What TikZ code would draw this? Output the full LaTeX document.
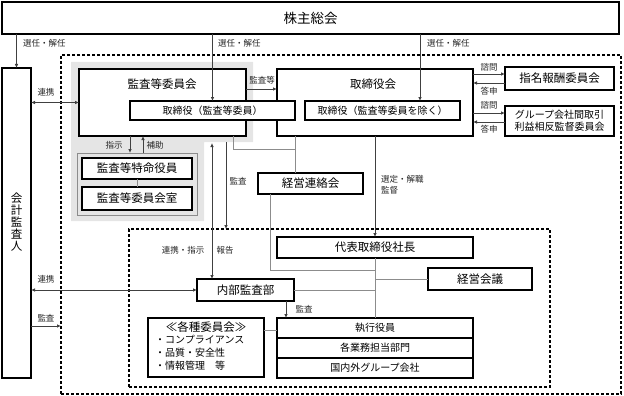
\documentclass[tikz,border=0pt]{standalone}
\usepackage{fontspec}
\setmainfont{Noto Sans CJK JP}
\usetikzlibrary{arrows.meta,calc}
\newcommand\fsL{\fontsize{13.5}{15}\selectfont}
\newcommand\fsB{\fontsize{11.5}{13}\selectfont}
\newcommand\fsM{\fontsize{10}{12}\selectfont}
\newcommand\fsV{\fontsize{11.5}{12}\selectfont}
\newcommand\fsS{\fontsize{8.5}{10}\selectfont}
\begin{document}
\begin{tikzpicture}[x=1pt,y=-1pt,
  box/.style={draw=black, line width=1.1pt, fill=white, inner sep=0pt, outer sep=0pt, anchor=north west, font=\fsB},
  bbox/.style={box, line width=1.8pt},
  arr/.style={draw=black!75, line width=0.8pt, -{Latex[length=4pt,width=3.6pt]}},
  darr/.style={draw=black!75, line width=0.8pt, {Latex[length=4pt,width=3.6pt]}-{Latex[length=4pt,width=3.6pt]}},
  gline/.style={draw=black!45, line width=0.9pt},
  lbl/.style={font=\fsS, inner sep=0pt, text=black!85},
  dbox/.style={draw=black, line width=1.1pt, dash pattern=on 3pt off 2pt, inner sep=0pt, outer sep=0pt, anchor=north west},
]
\useasboundingbox (0,0) rectangle (624,396);
% gray area
\fill[gray!20] (71,62) -- (253,62) -- (253,142) -- (204,142) -- (204,221) -- (71,221) -- cycle;
% dashed areas
\node[dbox, minimum width=560, minimum height=339] (outer) at (61,55) {};
\node[dbox, minimum width=421, minimum height=158] (inner) at (129,229) {};
% boxes
\node[bbox, minimum width=617, minimum height=32, font=\fsL] (kabu) at (2,2) {株主総会};
\node[bbox, minimum width=29, minimum height=310] (kaikei) at (2,68) {};
\node[font=\fsV, align=center, inner sep=0pt] (kaikeit) at (16.5,222) {会\\計\\監\\査\\人};
\node[bbox, minimum width=167, minimum height=67] (kan) at (79,69) {};
\node[font=\fsB, inner sep=0pt] (kant) at (162,84) {監査等委員会};
\node[bbox, minimum width=196, minimum height=67] (tkk) at (277,69) {};
\node[font=\fsB, inner sep=0pt] (tkkt) at (373,84) {取締役会};
\node[box, minimum width=165, minimum height=19, font=\fsM] (tk1) at (130,101) {取締役（監査等委員）};
\node[box, minimum width=155, minimum height=19, font=\fsM] (tk2) at (305,101) {取締役（監査等委員を除く）};
\node[box, minimum width=109, minimum height=23] (shimei) at (505,67) {指名報酬委員会};
\node[box, minimum width=109, minimum height=30, font=\fsM, align=center] (group) at (505,106) {グループ会社間取引\\利益相反監督委員会};
\node[draw=black!45, line width=0.9pt, fill=gray!20, minimum width=120, minimum height=62, anchor=north west, inner sep=0pt, outer sep=0pt] (grp) at (77,153) {};
\node[box, minimum width=110, minimum height=21] (tok) at (82,158) {監査等特命役員};
\node[box, minimum width=110, minimum height=23] (shitsu) at (82,187) {監査等委員会室};
\node[box, minimum width=105, minimum height=21] (keiren) at (258,173) {経営連絡会};
\node[box, minimum width=196, minimum height=21] (daihyo) at (277,237) {代表取締役社長};
\node[box, minimum width=104, minimum height=22] (keikai) at (428,268) {経営会議};
\node[box, minimum width=97, minimum height=22] (naibu) at (197,279) {内部監査部};
\node[box, minimum width=196, minimum height=60] (shikko) at (277,318) {};
\node[box, minimum width=116, minimum height=59] (iinkai) at (148,318) {};
% coordinates
\coordinate (c420) at (420,0);
\coordinate (y89) at (0,89);
\coordinate (y74) at (0,74);
\coordinate (y83) at (0,83);
\coordinate (y113) at (0,113);
\coordinate (y122) at (0,122);
\coordinate (x130) at (130,0);
\coordinate (x143) at (143,0);
\coordinate (gb212) at (212,143);
\coordinate (gb226) at (226,142);
\coordinate (x233) at (233,0);
\coordinate (c233) at (233,149);
\coordinate (c295) at (295,149);
\coordinate (x295) at (295,0);
\coordinate (x270) at (270,0);
\coordinate (c270) at (270,270);
\coordinate (y326) at (0,326);
\coordinate (x286) at (286,0);
\coordinate (y330) at (0,330);
\coordinate (y338) at (0,338);
\coordinate (y358) at (0,358);
% rows of shikko
\draw[line width=1.1pt] (y338 -| shikko.west) -- (y338 -| shikko.east);
\draw[line width=1.1pt] (y358 -| shikko.west) -- (y358 -| shikko.east);
\node[font=\fsM] (r1) at (375,328) {執行役員};
\node[font=\fsM] (r2) at (375,348) {各業務担当部門};
\node[font=\fsM] (r3) at (375,368) {国内外グループ会社};
% iinkai text
\node[font=\fsB, inner sep=0pt] (it0) at (206,327) {≪各種委員会≫};
\node[font=\fsM, inner sep=0pt, anchor=west] (it1) at (155,340) {・コンプライアンス};
\node[font=\fsM, inner sep=0pt, anchor=west] (it2) at (155,353) {・品質・安全性};
\node[font=\fsM, inner sep=0pt, anchor=west] (it3) at (155,366) {・情報管理　等};
% connectors
\draw[arr] (kaikei.north |- kabu.south) -- (kaikei.north);
\draw[arr] (tk1.north |- kabu.south) -- (tk1.north);
\draw[arr] (c420 |- kabu.south) -- (c420 |- tk2.north);
\draw[arr] (y89 -| kan.east) -- (y89 -| tkk.west);
\draw[darr] (kaikei.east |- kan.west) -- (kan.west);
\draw[arr] (y74 -| tkk.east) -- (y74 -| shimei.west);
\draw[arr] (y83 -| shimei.west) -- (y83 -| tkk.east);
\draw[arr] (y113 -| tkk.east) -- (y113 -| group.west);
\draw[arr] (y122 -| group.west) -- (y122 -| tkk.east);
\draw[arr] (x130 |- kan.south) -- (x130 |- grp.north);
\draw[arr] (x143 |- grp.north) -- (x143 |- kan.south);
\draw[gline] (tok.south) -- (shitsu.north);
\draw[darr] (gb212) -- (gb212 |- naibu.north);
\draw[arr] (gb226) -- (gb226 |- inner.north);
\draw[gline] (x233 |- kan.south) -- (c233) -- (c295);
\draw[gline] (x295 |- tkk.south) -- (x295 |- keiren.north);
\draw[gline] (x270 |- keiren.south) -- (c270) -- (c270 -| daihyo.south);
\draw[arr] (tkk.south) -- (daihyo.north);
\draw[gline] (daihyo.south) -- (shikko.north);
\draw[gline] (keikai.west) -- (keikai.west -| daihyo.south);
\draw[gline] (naibu.east) -- (naibu.east -| daihyo.south);
\draw[darr] (kaikei.east |- naibu.west) -- (naibu.west);
\draw[arr] (y326 -| kaikei.east) -- (y326 -| outer.west);
\draw[arr] (x286 |- naibu.south) -- (x286 |- shikko.north);
\draw[gline] (y330 -| iinkai.east) -- (y330 -| shikko.west);
% labels
\node[lbl, anchor=west] (l1) at (23,43) {選任・解任};
\node[lbl, anchor=west] (l2) at (218,43) {選任・解任};
\node[lbl, anchor=west] (l3) at (427,43) {選任・解任};
\node[lbl] (l4) at (46,92) {連携};
\node[lbl] (l5) at (262,80) {監査等};
\node[lbl] (l6) at (489,67) {諮問};
\node[lbl] (l7) at (489,91) {答申};
\node[lbl] (l8) at (489,105) {諮問};
\node[lbl] (l9) at (489,129) {答申};
\node[lbl] (l10) at (114,145) {指示};
\node[lbl] (l11) at (155,145) {補助};
\node[lbl] (l12) at (238,181) {監査};
\node[lbl, anchor=west] (l13) at (381,179) {選定・解職};
\node[lbl, anchor=west] (l14) at (381,190) {監督};
\node[lbl] (l15) at (183,250) {連携・指示};
\node[lbl] (l16) at (225,250) {報告};
\node[lbl] (l17) at (46,279) {連携};
\node[lbl] (l18) at (46,318) {監査};
\node[lbl] (l19) at (304,309) {監査};
\end{tikzpicture}
\end{document}
